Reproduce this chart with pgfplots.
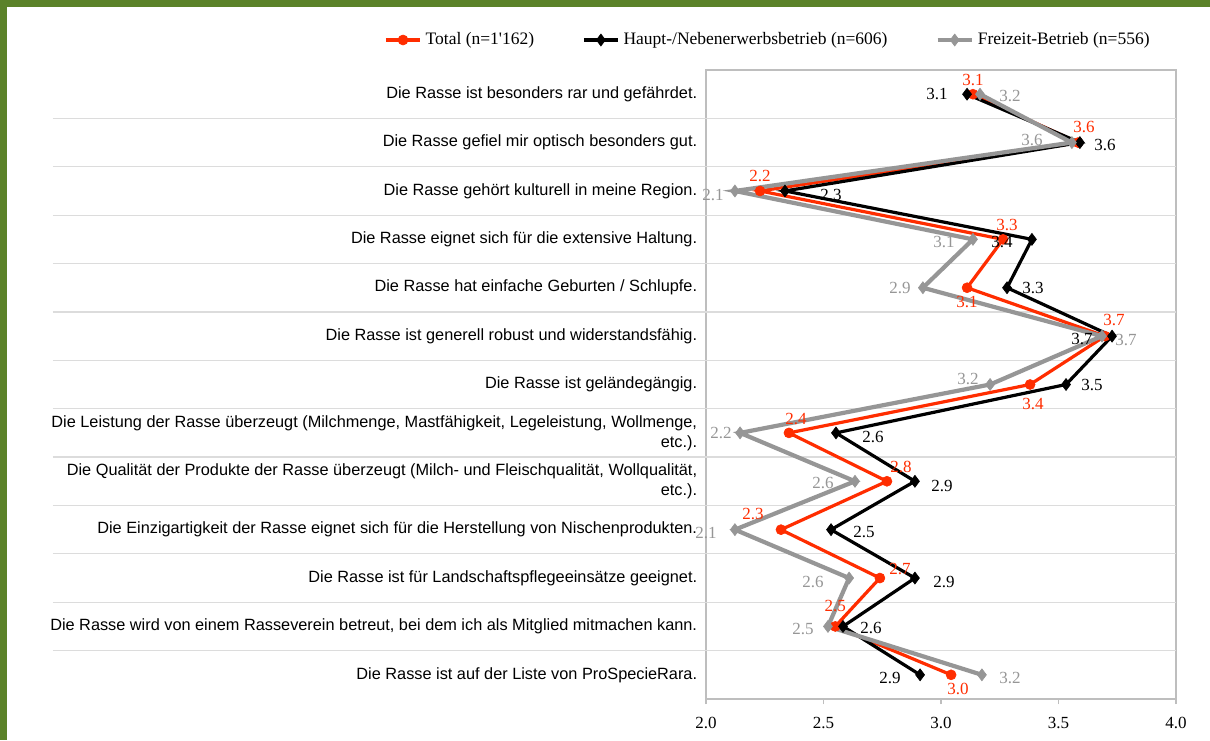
\documentclass[border=0pt]{standalone}
\usepackage{fontspec}
\setmainfont{Liberation Serif}
\setsansfont{Liberation Sans}
\usepackage{pgfplots}
\usepackage{pgfplotstable}
\pgfplotsset{compat=1.18}

\definecolor{bordergreen}{RGB}{91,130,41}
\definecolor{totred}{RGB}{255,45,0}
\definecolor{frgray}{RGB}{150,150,150}
\definecolor{axisgray}{RGB}{190,190,190}
\definecolor{gridgray}{RGB}{220,220,220}

% y = row, x = mean, lbl = printed value, dx/dy = label offset (pt)
\pgfplotstableread{
y x lbl dx dy
1 3.136 3.1 0 7
2 3.583 3.6 3 8
3 2.230 2.2 0 7.5
4 3.264 3.3 2 7
5 3.111 3.1 0 -7
6 3.698 3.7 4.5 8
7 3.379 3.4 1.5 -9.5
8 2.353 2.4 3.5 7
9 2.770 2.8 7 7
10 2.319 2.3 -14 8
11 2.740 2.7 10 4.5
12 2.550 2.5 0 10
13 3.043 3.0 3.5 -7
}\total

\pgfplotstableread{
y x lbl dx dy
1 3.111 3.1 -15 0
2 3.591 3.6 12.5 -1
3 2.336 2.3 23 -2
4 3.387 3.4 -15 -1.5
5 3.281 3.3 13 0
6 3.728 3.7 -15 -1.5
7 3.532 3.5 13 0
8 2.553 2.6 18.5 -2
9 2.889 2.9 13.5 -2.5
10 2.532 2.5 16.5 -1
11 2.889 2.9 14.5 -2
12 2.583 2.6 14 -1
13 2.911 2.9 -15 -1.5
}\haupt

\pgfplotstableread{
y x lbl dx dy
1 3.166 3.2 15 -1
2 3.557 3.6 -20 1.5
3 2.123 2.1 -11 -2
4 3.136 3.1 -14.5 -1.5
5 2.923 2.9 -11.5 0
6 3.685 3.7 12 -2
7 3.209 3.2 -11 3
8 2.145 2.2 -9.5 0
9 2.634 2.6 -16 -1
10 2.123 2.1 -14.5 -1.5
11 2.609 2.6 -18 -2
12 2.519 2.5 -12.5 -1.5
13 3.174 3.2 14 -1.5
}\freizeit

\pgfplotsset{
  vlabels/.style={
    nodes near coords,
    point meta=explicit symbolic,
    visualization depends on={\thisrow{dx} \as \ldx},
    visualization depends on={\thisrow{dy} \as \ldy},
    every node near coord/.append style={anchor=center, inner sep=0pt,
      xshift=\ldx, yshift=\ldy, text=#1,
      font=\rmfamily\fontsize{8.5}{10}\selectfont},
  },
}

\begin{document}
\begin{tikzpicture}
\fill[bordergreen] (0pt,0pt) rectangle (605pt,370pt);
\fill[white] (3.5pt,0pt) rectangle (605pt,366.5pt);
\begin{axis}[
  at={(353pt,20.5pt)}, anchor=south west,
  scale only axis, width=235pt, height=314.5pt,
  xmin=2, xmax=4, ymin=0.5, ymax=13.5, y dir=reverse,
  clip=false,
  axis line style={draw=axisgray, line width=0.6pt},
  xtick={2,2.5,3,3.5,4},
  xtick pos=bottom, tick align=outside, major tick length=2.5pt,
  xtick style={draw=axisgray, line width=0.6pt},
  ytick={1,...,13}, ytick style={draw=none},
  xticklabel style={font=\rmfamily\fontsize{8.5}{10}\selectfont, yshift=-3pt,
    /pgf/number format/.cd, fixed, fixed zerofill, precision=1, assume math mode=true},
  yticklabel style={font=\sffamily\fontsize{8.15}{10}\selectfont, align=right, xshift=1.6pt},
  yticklabels={
    Die Rasse ist besonders rar und gefährdet.,
    Die Rasse gefiel mir optisch besonders gut.,
    Die Rasse gehört kulturell in meine Region.,
    Die Rasse eignet sich für die extensive Haltung.,
    Die Rasse hat einfache Geburten / Schlupfe.,
    Die Rasse ist generell robust und widerstandsfähig.,
    Die Rasse ist geländegängig.,
    {Die Leistung der Rasse überzeugt (Milchmenge, Mastfähigkeit, Legeleistung, Wollmenge,\\etc.).},
    {Die Qualität der Produkte der Rasse überzeugt (Milch- und Fleischqualität, Wollqualität,\\etc.).},
    Die Einzigartigkeit der Rasse eignet sich für die Herstellung von Nischenprodukten.,
    Die Rasse ist für Landschaftspflegeeinsätze geeignet.,
    {Die Rasse wird von einem Rasseverein betreut, bei dem ich als Mitglied mitmachen kann.},
    Die Rasse ist auf der Liste von ProSpecieRara.
  },
  legend style={at={(axis description cs:0.134,1.0477)}, anchor=center,
    legend columns=3, draw=none, fill=none,
    font=\rmfamily\fontsize{8.75}{10}\selectfont,
    /tikz/every even column/.append style={column sep=22pt}},
  legend cell align=left,
]
\pgfplotsinvokeforeach{1.5,2.5,3.5,4.5,5.5,6.5,7.5,8.5,9.5,10.5,11.5,12.5}{
  \draw[gridgray, line width=0.6pt] (axis cs:-0.779,#1) -- (axis cs:4,#1);
}
\addplot[totred, line width=1.6pt, mark=*, mark size=2.5pt,
  mark options={line width=0.3pt}, vlabels=totred]
  table[x=x, y=y, meta=lbl] {\total};
\addlegendentry{Total (n=1\textquotesingle 162)}
\addplot[black, line width=1.6pt, mark=diamond*, mark size=3pt,
  mark options={line width=0.3pt}, vlabels=black]
  table[x=x, y=y, meta=lbl] {\haupt};
\addlegendentry{Haupt-/Nebenerwerbsbetrieb (n=606)}
\addplot[frgray, line width=2.1pt, mark=diamond*, mark size=3pt,
  mark options={line width=0.3pt}, vlabels=frgray]
  table[x=x, y=y, meta=lbl] {\freizeit};
\addlegendentry{Freizeit-Betrieb (n=556)}
\end{axis}
\end{tikzpicture}
\end{document}
